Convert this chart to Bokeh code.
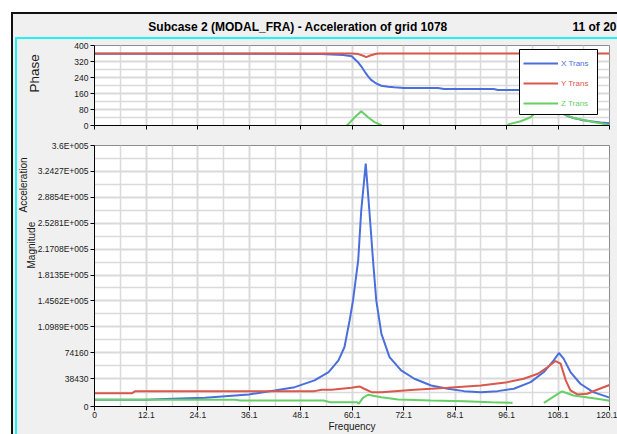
from bokeh.plotting import figure
from bokeh.layouts import column
from bokeh.models import (FixedTicker, Legend, LegendItem, Label, BoxAnnotation,
                          Range1d, CustomJSTickFormatter, Title, LinearAxis)
from bokeh.embed import file_html
from bokeh.resources import INLINE

NAN = float("nan")

# ---------------- data ----------------
freq_ticks = [0, 12.1, 24.1, 36.1, 48.1, 60.1, 72.1, 84.1, 96.1, 108.1, 120.1]
freq_minor = [6.05, 18.1, 30.1, 42.1, 54.1, 66.1, 78.1, 90.1, 102.1, 114.1]
phase_ticks = [0, 80, 160, 240, 320, 400]
phase_minor = [40, 120, 200, 280, 360]
mag_ticks = [0, 38430, 74160, 109890, 145620, 181350, 217080, 252810, 288540, 324270, 360000]
mag_tick_labels = ["0", "38430", "74160", "1.0989E+005", "1.4562E+005", "1.8135E+005",
                   "2.1708E+005", "2.5281E+005", "2.8854E+005", "3.2427E+005", "3.6E+005"]
mag_minor = [19215, 56295, 92025, 127755, 163485, 199215, 234945, 270675, 306405, 342135]

# Phase (deg)
x_phase_freq = [0, 20, 40, 50, 53, 55.3, 58, 60, 60.6, 61.4, 62.2, 63, 63.8, 64.5, 65.3, 66.1,
                66.9, 68.5, 69.9, 72.2, 76, 80.1, 81.5, 86, 93.1, 94.1, 98.5, 101, 103, 105,
                106.3, 107.3, 108.3, 109.4, 110.5, 111.7, 113.5, 115.7, 118, 120.1]
x_phase = [359, 359, 359, 358, 357, 355, 352, 346, 334, 318, 296, 270, 246, 228, 216, 206,
           199, 194, 191, 187.5, 187.5, 187.5, 182.5, 182.5, 182.5, 177.5, 177.5, 176, 172, 162,
           140, 110, 82, 57, 46, 37.5, 28, 21, 15, 11]

y_phase_freq = [0, 60, 61.5, 62.5, 63.4, 64.3, 65.7, 66.5, 120.1]
y_phase = [360, 360, 357, 350, 342, 350, 359, 360, 360]

z_phase_freq = [58.8, 59.2, 60.7, 62.2, 63.8, 65.3, 66.5, 67.0, 80, 96.2, 96.7, 99.4, 101.7,
                102.5, 104.5, 106, 107.5, 109.5, 111.7, 113.3, 116.6, 119.6, 120.1]
z_phase = [0, 7, 41, 71, 41, 17, 5, 0, NAN, 0, 7, 21, 41, 57, 76, 85, 76, 57, 37, 31, 16, 5, 4]

# Acceleration magnitude
x_mag_freq = [0, 12, 18.1, 25.8, 36, 42, 46.7, 51.3, 54.6, 56.9, 58.3, 59.5, 60.3, 61.5, 62.2,
              63.25, 64.1, 64.95, 65.7, 66.9, 68.8, 71.5, 74.6, 78.5, 82.4, 86.2, 90.1, 94,
              97.8, 101.7, 104.8, 107.1, 108.3, 109.4, 111, 113.3, 116.3, 119.8, 120.1]
x_mag = [9300, 9300, 10650, 12000, 16600, 22100, 26700, 36000, 47500, 63700, 82100, 119000,
         146700, 202000, 270000, 335000, 270000, 202000, 146700, 100600, 68200, 49800, 38300,
         29000, 24500, 21200, 19800, 21200, 24500, 33600, 47500, 63700, 73800, 66000, 47500,
         31400, 19800, 12900, 12500]

y_mag_freq = [0, 8.8, 9.5, 51.3, 53, 55.3, 59.9, 61.8, 62.9, 64.6, 66.9, 74.6, 82.4, 90.1, 96.3,
              100.1, 103.4, 105.7, 107.5, 108.7, 109.9, 111, 112.6, 114.9, 117.2, 119.8, 120.1]
y_mag = [18400, 18400, 21200, 21200, 23100, 23100, 25900, 27700, 24500, 19800, 19800, 23100,
         25900, 29000, 33600, 38300, 45200, 54400, 62700, 59100, 36000, 22100, 16600, 17600,
         23100, 29000, 29600]

z_mag_freq = [0, 32.8, 34, 53.4, 55, 61.2, 61.6, 62.6, 63.8, 66.9, 70.8, 78.5, 86.2, 92.5, 97.5,
              101, 104.8, 108.7, 109.1, 111.7, 117.2, 119.8, 120.1]
z_mag = [9300, 9300, 8300, 8300, 5950, 5950, 3700, 12000, 16200, 12900, 9700, 8300, 7300, 5950,
         5100, NAN, 5000, 19800, 20700, 15200, 10650, 8300, 8000]

series_names = ["X Trans", "Y Trans", "Z Trans"]

# ---------------- style ----------------
BG = "#f0f0f0"
GRID = "#dadada"
BLUE = "#4a6fdc"
RED = "#d9584c"
GREEN = "#66cf66"
COLORS = [BLUE, RED, GREEN]
SANS = "Liberation Sans"
TXT = "#1a1a1a"
FIG_W = 600
TICK_FS = "8.5px"


def style_plot(p, xticks, xminor, yticks, yminor):
    p.background_fill_color = "white"
    p.border_fill_color = BG
    p.outline_line_color = "#8c8c8c"
    for ax, tk, mn in ((p.xaxis[0], xticks, xminor), (p.yaxis[0], yticks, yminor)):
        ax.ticker = FixedTicker(ticks=tk, minor_ticks=mn)
        ax.axis_line_color = "black"
        ax.major_tick_line_color = "black"
        ax.major_tick_out = 4
        ax.major_tick_in = 0
        ax.minor_tick_line_color = None
        ax.minor_tick_out = 0
        ax.major_label_text_font = SANS
        ax.major_label_text_font_size = TICK_FS
        ax.major_label_text_color = TXT
        ax.axis_label_text_font = SANS
        ax.axis_label_text_font_style = "normal"
        ax.axis_label_text_color = TXT
    for g in (p.xgrid[0], p.ygrid[0]):
        g.grid_line_color = GRID
        g.grid_line_width = 2
        g.minor_grid_line_color = GRID
        g.minor_grid_line_width = 1.5


def side_title(p, text, size, offset, standoff):
    t = Title(text=text, align="left", vertical_align="middle", offset=offset,
              text_font=SANS, text_font_size=size, text_font_style="normal",
              text_color=TXT)
    try:
        t.standoff = standoff
    except Exception:
        t.standoff = 0
    p.add_layout(t, "left")


# ---------------- title bar ----------------
tfig = figure(width=604, height=23, x_range=Range1d(0, 1), y_range=Range1d(0, 1),
              toolbar_location=None, output_backend="svg", min_border=0,
              x_axis_location=None, y_axis_location=None)
tfig.background_fill_color = BG
tfig.border_fill_color = BG
tfig.outline_line_color = None
tfig.grid.visible = False
tfig.add_layout(Label(x=284.5, y=11, x_units="screen", y_units="screen",
                      text="Subcase 2 (MODAL_FRA) - Acceleration of grid 1078",
                      text_font=SANS, text_font_style="bold", text_font_size="12px",
                      text_align="center", text_baseline="middle", text_color="black"))
tfig.add_layout(Label(x=603, y=11, x_units="screen", y_units="screen", text="11 of 20",
                      text_font=SANS, text_font_style="bold", text_font_size="12px",
                      text_align="right", text_baseline="middle", text_color="black"))

# ---------------- phase plot ----------------
ptop = figure(width=FIG_W, height=93, x_range=Range1d(0, 120.1), y_range=Range1d(0, 400),
              toolbar_location=None, output_backend="svg",
              min_border_left=75, min_border_right=8, min_border_top=6, min_border_bottom=7)
style_plot(ptop, freq_ticks, freq_minor, phase_ticks, phase_minor)
ptop.xaxis[0].formatter = CustomJSTickFormatter(code="return ''")
ptop.xaxis[0].major_label_text_font_size = "0px"
ptop.xaxis[0].major_label_standoff = 0
ptop.yaxis[0].major_label_standoff = 2

# invisible spacer axis between the tick labels and the "Phase" caption
spacer = LinearAxis(ticker=FixedTicker(ticks=[200]), axis_line_color=None,
                    major_tick_line_color=None, minor_tick_line_color=None,
                    major_tick_out=29, major_tick_in=0, minor_tick_out=0,
                    major_label_standoff=0, major_label_overrides={200: ""})
ptop.add_layout(spacer, "left")
side_title(ptop, "Phase", "13.5px", 33, 0)

r_top = []
for fx, vals, c in ((x_phase_freq, x_phase, BLUE), (y_phase_freq, y_phase, RED),
                    (z_phase_freq, z_phase, GREEN)):
    r_top.append(ptop.line(fx, vals, line_color=c, line_width=2))

ptop.add_layout(BoxAnnotation(left=425, right=503, bottom=11, top=76,
                              left_units="screen", right_units="screen",
                              bottom_units="screen", top_units="screen",
                              fill_color="white", fill_alpha=1.0,
                              line_color="black", line_width=1, line_alpha=1.0))
for i, (name, rr, c) in enumerate(zip(series_names, r_top, COLORS)):
    leg = Legend(items=[LegendItem(label=name, renderers=[rr])],
                 location=(429, 52 - 20 * i), padding=0, margin=0, spacing=0,
                 glyph_width=35, glyph_height=20, label_height=20, label_standoff=3,
                 border_line_color=None, background_fill_alpha=0,
                 label_text_font=SANS, label_text_font_size="8px",
                 label_text_color=c, label_text_baseline="middle")
    ptop.add_layout(leg)

# ---------------- separator ----------------
psep = figure(width=FIG_W, height=5, x_range=Range1d(0, 120.1), y_range=Range1d(0, 1),
              toolbar_location=None, output_backend="svg",
              min_border_left=75, min_border_right=8, min_border_top=0, min_border_bottom=3,
              x_axis_location=None, y_axis_location=None)
psep.grid.visible = False
psep.background_fill_color = "#d8d8d8"
psep.border_fill_color = BG
psep.outline_line_color = "#7a7a7a"

# ---------------- magnitude plot ----------------
pbot = figure(width=FIG_W, height=297, x_range=Range1d(0, 120.1), y_range=Range1d(0, 360000),
              toolbar_location=None, output_backend="svg",
              min_border_left=75, min_border_right=8, min_border_top=8, min_border_bottom=28)
style_plot(pbot, freq_ticks, freq_minor, mag_ticks, mag_minor)
pbot.yaxis[0].major_label_overrides = {t: s for t, s in zip(mag_ticks, mag_tick_labels)}
pbot.yaxis[0].major_label_standoff = 2
pbot.xaxis[0].major_label_overrides = {0: "0"}
pbot.xaxis[0].major_label_standoff = 1
pbot.xaxis[0].axis_label = "Frequency"
pbot.xaxis[0].axis_label_text_font_size = "10px"
pbot.xaxis[0].axis_label_standoff = 0

for fx, vals, c in ((x_mag_freq, x_mag, BLUE), (y_mag_freq, y_mag, RED),
                    (z_mag_freq, z_mag, GREEN)):
    pbot.line(fx, vals, line_color=c, line_width=2)

side_title(pbot, "Magnitude", "10px", 138, -7)
side_title(pbot, "Acceleration", "10px", 194, -2)

# ---------------- layout ----------------
inner = column(ptop, psep, pbot, margin=(0, 0, 0, 2),
               styles={"border-left": "2px solid #22f2f2", "border-top": "2px solid #22f2f2"})
root = column(tfig, inner, margin=(12, 0, 0, 11),
              styles={"border-left": "2px solid #111111", "border-top": "2px solid #111111",
                      "background-color": BG})

open("out.html", "w").write(file_html(root, INLINE))
